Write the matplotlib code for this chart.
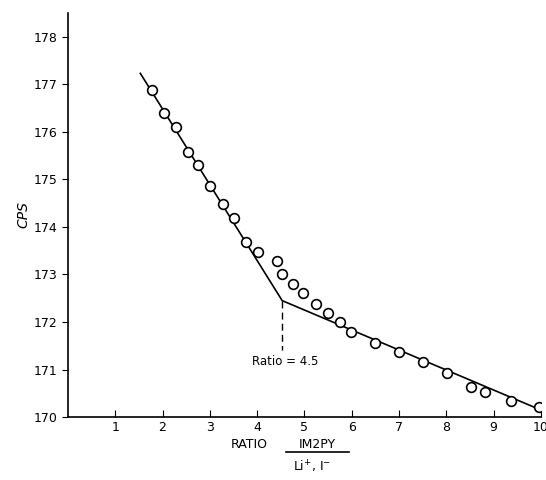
import matplotlib
matplotlib.use('Agg')
import matplotlib.pyplot as plt
from matplotlib.lines import Line2D

# measured points (ratio, cps)
ratio = [1.77, 2.03, 2.28, 2.53, 2.76, 3.01, 3.28, 3.52, 3.76, 4.02,
         4.42, 4.52, 4.75, 4.97, 5.25, 5.50, 5.75, 5.99, 6.50, 7.01,
         7.50, 8.01, 8.52, 8.81, 9.38, 9.96]
cps = [176.88, 176.39, 176.10, 175.58, 175.30, 174.87, 174.49, 174.18, 173.68, 173.48,
       173.29, 173.00, 172.80, 172.61, 172.38, 172.20, 171.99, 171.79, 171.55, 171.37,
       171.16, 170.93, 170.64, 170.53, 170.34, 170.22]

# fitted two-segment line
fit_x = [1.53, 4.53, 10.0]
fit_y = [177.23, 172.45, 170.15]

knee_x = 4.53
knee_y = 172.45
dash_bottom = 171.42

def main():
    fig = plt.figure(figsize=(5.46, 4.8), dpi=100)
    ax = fig.add_axes([0.1245, 0.131, 0.866, 0.842])

    ax.plot(fit_x, fit_y, color='black', lw=1.2, zorder=2)
    ax.plot(ratio, cps, linestyle='none', marker='o', ms=7, mfc='white',
            mec='black', mew=1.2, zorder=3)
    ax.plot([knee_x, knee_x], [knee_y, dash_bottom], color='black', lw=1.0,
            dashes=(5, 3))
    ax.text(4.6, 171.17, 'Ratio = 4.5', ha='center', va='center', fontsize=8.5)

    ax.set_xlim(0, 10)
    ax.set_ylim(170, 178.5)
    ax.set_xticks(range(1, 11))
    ax.set_yticks(range(170, 179))
    ax.tick_params(axis='x', direction='in', length=5, labelsize=9, pad=3)
    ax.tick_params(axis='y', direction='out', length=4, labelsize=9)
    for s in ['top', 'right']:
        ax.spines[s].set_visible(False)
    ax.spines['left'].set_linewidth(1.2)
    ax.spines['bottom'].set_linewidth(1.2)

    ax.set_ylabel('CPS', fontsize=10, style='italic', labelpad=2)

    # x label with a fraction
    fig.text(249.5 / 546, 1 - 444 / 480, 'RATIO', ha='center', va='center', fontsize=9)
    fig.text(317.5 / 546, 1 - 444 / 480, 'IM2PY', ha='center', va='center', fontsize=9)
    fig.add_artist(Line2D([286 / 546, 349 / 546], [1 - 452 / 480, 1 - 452 / 480],
                          color='black', lw=1.2))
    fig.text(312.5 / 546, 1 - 467 / 480, 'Li$^{+}$, I$^{-}$', ha='center', va='center',
             fontsize=9)

    plt.savefig('out.png', dpi=100)
    plt.close()

if __name__ == "__main__":
    main()
